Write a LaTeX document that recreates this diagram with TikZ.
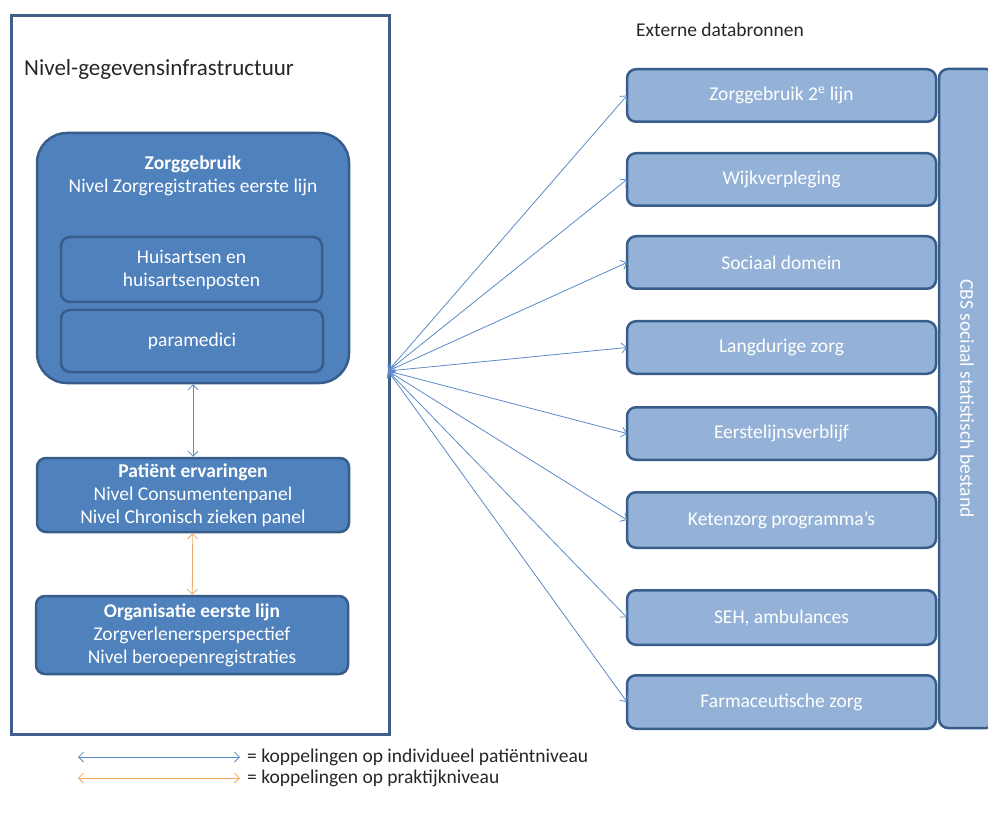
\documentclass[tikz,border=0pt]{standalone}
\usepackage{fontspec}
\setmainfont{Carlito}
\usetikzlibrary{arrows.meta,positioning}
\definecolor{frame}{HTML}{3F5F8A}
\definecolor{dark}{HTML}{4F81BD}
\definecolor{light}{HTML}{94B2D7}
\definecolor{edge}{HTML}{385D8A}
\definecolor{linkblue}{HTML}{5B8AC6}
\definecolor{linkorange}{HTML}{F2A766}

\begin{document}
\begin{tikzpicture}[x=1pt,y=-1pt,node distance=31.5pt,
  every node/.style={font=\fontsize{19.5}{23}\selectfont,inner sep=0pt},
  darkbox/.style={draw=edge,line width=2.5pt,fill=dark,rounded corners=9pt,text=white,align=center,minimum width=312pt},
  lightbox/.style={draw=edge,line width=2.5pt,fill=light,rounded corners=9pt,text=white,outer sep=0pt,minimum width=309pt,minimum height=52.5pt},
  link/.style={{Straight Barb[length=5pt,width=10pt]}-{Straight Barb[length=5pt,width=10pt]},linkblue,line width=0.8pt},
  praktijk/.style={link,linkorange}]
\useasboundingbox (0,0) rectangle (988,818);
\node[draw=frame,line width=3pt,minimum width=378pt,minimum height=719pt,anchor=north west] (nivel) at (10,14) {};
\node[anchor=base west,font=\fontsize{23}{27}\selectfont,text=black!85] (title) at (24,76) {Nivel-gegevensinfrastructuur};
% left column
\node[darkbox,rounded corners=30pt,minimum height=250pt] (zg) at (193,258) {};
\node[text=white,align=center] (zgt) at (193,176) {\textbf{Zorggebruik}\\Nivel Zorgregistraties eerste lijn};
\node[darkbox,minimum width=261pt,minimum height=65pt] (ha) at (191.5,269.5) {Huisartsen en\\huisartsenposten};
\node[darkbox,minimum width=262pt,minimum height=62pt] (pm) at (192,341) {paramedici};
\node[darkbox,minimum height=74pt] (pe) at (193,495) {\textbf{Patiënt ervaringen}\\Nivel Consumentenpanel\\Nivel Chronisch zieken panel};
\node[darkbox,minimum height=78pt] (org) at (192,635) {\textbf{Organisatie eerste lijn}\\Zorgverlenersperspectief\\Nivel beroepenregistraties};
\draw[link] (zg) -- (pe);
\draw[praktijk] (pe) -- (org);
% external sources
\node[anchor=base west,text=black!85] (ext) at (636,37) {Externe databronnen};
\node[lightbox] (e1) at (781.5,95.5) {Zorggebruik 2\textsuperscript{e} lijn};
\node[lightbox,below=of e1] (e2) {Wijkverpleging};
\node[lightbox,below=30.5pt of e2] (e3) {Sociaal domein};
\node[lightbox,below=32.5pt of e3] (e4) {Langdurige zorg};
\node[lightbox,below=33.5pt of e4] (e5) {Eerstelijnsverblijf};
\node[lightbox,below=32.5pt of e5,minimum height=55.5pt] (e6) {Ketenzorg programma's};
\node[lightbox,below=42.5pt of e6,minimum height=54.5pt] (e7) {SEH, ambulances};
\node[lightbox,below=30.5pt of e7,minimum height=53.5pt] (e8) {Farmaceutische zorg};
\node[draw=edge,line width=2.5pt,fill=light,rounded corners=9pt,text=white,rotate=-90,minimum width=659pt,minimum height=56pt] (cbs) at (967,398.5) {CBS sociaal statistisch bestand};
\coordinate (hub) at (388,371);
\foreach \i in {1,...,8} \draw[link] (hub) -- (e\i.west);
% legend
\node[anchor=west,text=black!85] (lg1) at (247,757) {= koppelingen op individueel patiëntniveau};
\node[anchor=west,text=black!85] (lg2) at (247,778) {= koppelingen op praktijkniveau};
\coordinate (la1) at (78,757);
\coordinate (lb1) at (240,757);
\coordinate (la2) at (78,778);
\coordinate (lb2) at (240,778);
\draw[link] (la1) -- (lb1);
\draw[praktijk] (la2) -- (lb2);
\end{tikzpicture}
\end{document}
